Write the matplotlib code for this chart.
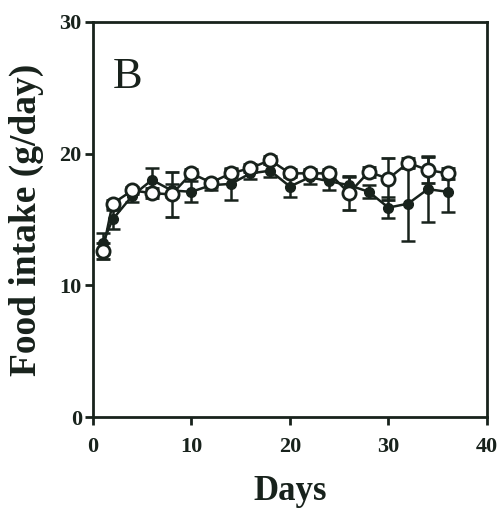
import numpy as np
import matplotlib
matplotlib.use("Agg")
from matplotlib import pyplot as plt

days = [1, 2, 4, 6, 8, 10, 12, 14, 16, 18, 20, 22, 24, 26, 28, 30, 32, 34, 36]

open_mean = [12.6, 16.2, 17.2, 17.0, 16.9, 18.5, 17.8, 18.5, 18.9, 19.5, 18.5,
             18.5, 18.5, 17.0, 18.6, 18.1, 19.3, 18.75, 18.5]
open_err = [0.6, 0.3, 0.3, 0.4, 1.7, 0.3, 0.3, 0.3, 0.3, 0.3, 0.3,
            0.3, 0.3, 1.3, 0.4, 1.6, 0.4, 1.0, 0.4]

filled_mean = [13.2, 15.0, 16.8, 18.0, 17.2, 17.1, 17.6, 17.7, 18.5, 18.7, 17.5,
               18.2, 17.9, 17.6, 17.1, 15.9, 16.2, 17.3, 17.1]
filled_err = [0.8, 0.7, 0.5, 0.9, 0.5, 0.8, 0.4, 1.2, 0.4, 0.5, 0.8,
              0.5, 0.7, 0.6, 0.5, 0.8, 2.8, 2.5, 1.5]

ink = '#18221c'
plt.rcParams['font.family'] = ['Liberation Serif', 'DejaVu Serif']

fig = plt.figure(figsize=(5.02, 5.08), dpi=100)
ax = fig.add_axes([0.185, 0.179, 0.785, 0.778])

ax.errorbar(days, filled_mean, yerr=filled_err, color=ink, marker='o', ms=7,
            mfc=ink, mec=ink, lw=1.8, elinewidth=1.8, capsize=5, capthick=1.8, zorder=2)
ax.errorbar(days, open_mean, yerr=open_err, color=ink, marker='o', ms=9.5,
            mfc='white', mec=ink, mew=2, lw=1.8, elinewidth=1.8, capsize=5, capthick=1.8, zorder=3)

ax.set_xlim(0, 40)
ax.set_ylim(0, 30)
ax.set_xticks([0, 10, 20, 30, 40])
ax.set_yticks([0, 10, 20, 30])
for s in ax.spines.values():
    s.set_linewidth(2)
    s.set_color(ink)
ax.tick_params(direction='out', length=6, width=2, color=ink, labelsize=16, labelcolor=ink)
ax.tick_params(axis='x', pad=8)
ax.tick_params(axis='y', pad=2)
for lab in ax.get_xticklabels() + ax.get_yticklabels():
    lab.set_fontweight('bold')

ax.set_xlabel('Days', fontsize=25, fontweight='bold', color=ink, labelpad=13)
ax.set_ylabel('Food intake (g/day)', fontsize=27, fontweight='bold', color=ink, labelpad=11)
ax.text(0.05, 0.833, 'B', transform=ax.transAxes, fontsize=32, color=ink)

fig.savefig('out.png', dpi=100)
